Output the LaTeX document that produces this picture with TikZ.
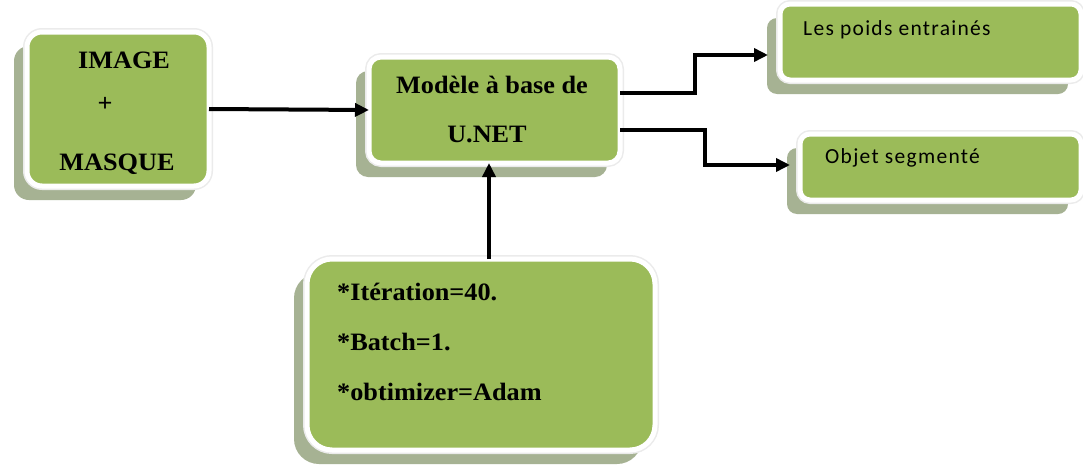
\documentclass[tikz,border=0pt]{standalone}
\usepackage{fontspec}
\setmainfont[FakeStretch=1.05]{Liberation Serif}
\newfontfamily\calfont[LetterSpace=6]{Carlito}
\usetikzlibrary{arrows.meta,calc,shadows}
\definecolor{boxgreen}{HTML}{9BBB59}
\definecolor{shadowc}{HTML}{A6B293}
\tikzset{
  box/.style={draw=white, line width=5pt, fill=boxgreen, outer sep=0pt, inner sep=0pt,
    general shadow={fill=shadowc, draw=none, shadow xshift=-13pt, shadow yshift=-14pt},
    preaction={draw=black!8, line width=8pt}},
  arr/.style={line width=4pt, -{Triangle[length=14pt,width=13pt]}},
  lbl/.style={font=\fontsize{25}{30}\selectfont\bfseries, inner sep=0pt, anchor=base},
  llbl/.style={lbl, anchor=base west},
  clbl/.style={font=\fontsize{21.5}{26}\selectfont\calfont, inner sep=0pt, anchor=base west},
}
\begin{document}
\begin{tikzpicture}[x=1pt,y=-1pt]
\useasboundingbox[fill=white] (0,0) rectangle (1083,466);
% boxes
\node[box, rounded corners=15pt, minimum width=182pt, minimum height=154pt] (b1) at (118,109) {};
\node[box, rounded corners=12pt, minimum width=251pt, minimum height=106pt] (b2) at (494.5,110) {};
\node[box, rounded corners=10pt, minimum width=301pt, minimum height=76pt] (b3) at (930.5,42) {};
\node[box, rounded corners=10pt, minimum width=281pt, minimum height=66pt] (b4) at (940.5,167) {};
\node[box, rounded corners=25pt, minimum width=348pt, minimum height=191pt] (b5) at (481,354.5) {};
% texts
\node[lbl] (t1a) at (124,68) {IMAGE};
\node[lbl] (t1b) at (105,111) {+};
\node[lbl] (t1c) at (117,170) {MASQUE};
\node[lbl] (t2a) at (492,93) {Modèle à base de};
\node[lbl] (t2b) at (487,142) {U.NET};
\node[clbl] (t3) at (803,35) {Les poids entrainés};
\node[clbl] (t4) at (825,163) {Objet segmenté};
\node[llbl] (t5a) at (337,300) {*Itération=40.};
\node[llbl] (t5b) at (337,350) {*Batch=1.};
\node[llbl] (t5c) at (337,400) {*obtimizer=Adam};
% connectors
\draw[arr] (b1.east) -- (b2.west);
\draw[arr] ($(b2.east)+(0,-17)$) -| (695,55) -- ($(b3.west)+(-12,13)$);
\draw[arr] ($(b2.east)+(0,20)$) -| (705,165) -- ($(b4.west)+(-10,-2)$);
\draw[arr] ($(b5.north)+(8,0)$) -- ($(b2.south)+(-5.5,0)$);
\end{tikzpicture}
\end{document}
